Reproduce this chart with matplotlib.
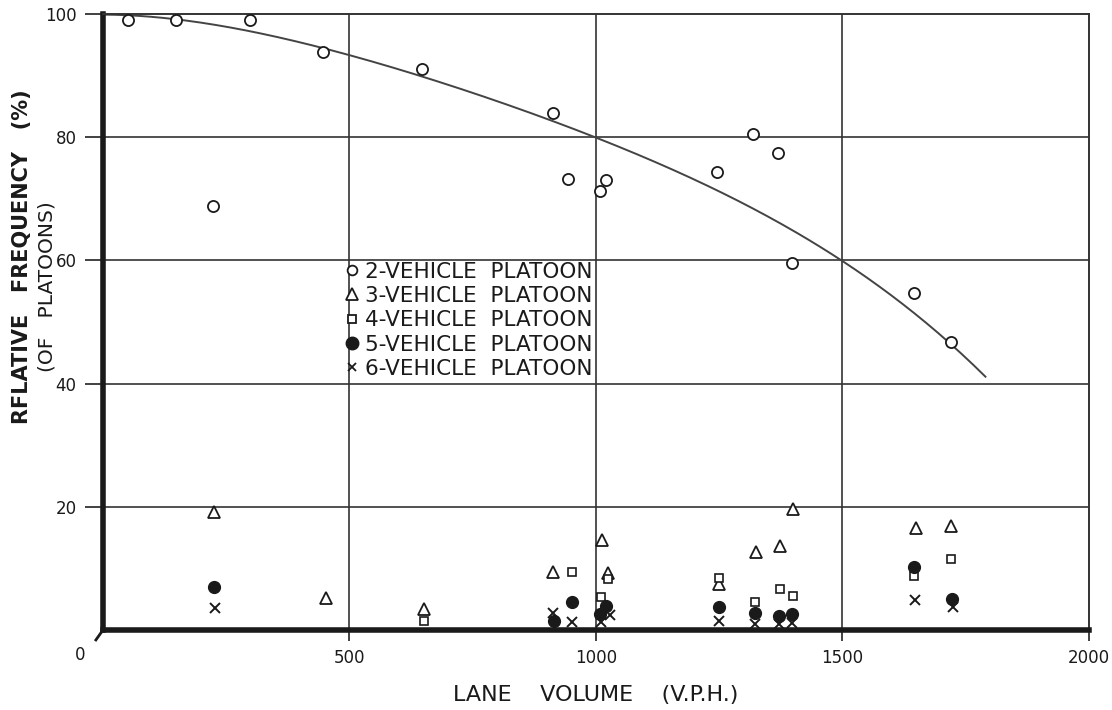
import numpy as np
import matplotlib
matplotlib.use("Agg")
import matplotlib.pyplot as plt
from matplotlib.lines import Line2D

# 2-vehicle platoons
x2 = [50, 148, 298, 446, 648, 224, 912, 944, 1009, 1020, 1245, 1319, 1370, 1397, 1646, 1720]
y2 = [99.0, 99.0, 99.0, 93.9, 91.0, 68.9, 84.0, 73.2, 71.2, 73.1, 74.4, 80.5, 77.4, 59.5, 54.7, 46.7]
# 3-vehicle platoons
x3 = [225, 452, 652, 912, 1013, 1024, 1249, 1325, 1373, 1399, 1649, 1721]
y3 = [19.2, 5.2, 3.4, 9.4, 14.6, 9.2, 7.4, 12.7, 13.7, 19.6, 16.6, 16.8]
# 4-vehicle platoons
x4 = [652, 952, 1011, 1024, 1249, 1323, 1374, 1399, 1646, 1721]
y4 = [1.5, 9.4, 5.3, 8.3, 8.5, 4.6, 6.6, 5.5, 8.8, 11.5]
# 5-vehicle platoons
x5 = [226, 915, 951, 1009, 1021, 1249, 1322, 1372, 1398, 1646, 1723]
y5 = [7.0, 1.5, 4.6, 2.6, 3.9, 3.7, 2.7, 2.3, 2.6, 10.2, 5.1]
# 6-vehicle platoons
x6 = [227, 912, 952, 1011, 1028, 1249, 1322, 1372, 1398, 1648, 1725]
y6 = [3.5, 2.8, 1.35, 1.35, 2.4, 1.5, 1.0, 1.0, 1.1, 4.8, 3.7]

# hand-drawn trend curve for 2-vehicle platoons
curve_x = [0, 250, 500, 750, 1000, 1250, 1500, 1650, 1720, 1790]
curve_y = [100, 97.7, 93.2, 87.7, 80.0, 70.5, 60.0, 51.5, 46.8, 40.6]

legend_labels = ["2-VEHICLE  PLATOON", "3-VEHICLE  PLATOON", "4-VEHICLE  PLATOON",
                 "5-VEHICLE  PLATOON", "6-VEHICLE  PLATOON"]
x_ticks = [500, 1000, 1500, 2000]
y_ticks = [20, 40, 60, 80, 100]

ink = "#1a1a1a"
plt.rcParams["font.family"] = ["DejaVu Sans"]

fig = plt.figure(figsize=(11.12, 7.10), dpi=100)
ax = fig.add_axes([0.0926, 0.1127, 0.8867, 0.8676])
ax.set_xlim(0, 2000)
ax.set_ylim(0, 100)

# grid
for gx in x_ticks[:-1]:
    ax.axvline(gx, color="#333333", lw=1.2, zorder=1)
for gy in y_ticks[:-1]:
    ax.axhline(gy, color="#333333", lw=1.2, zorder=1)

# spines
for side in ["top", "right"]:
    ax.spines[side].set_linewidth(1.4)
    ax.spines[side].set_color("#333333")
for side in ["left", "bottom"]:
    ax.spines[side].set_linewidth(4.0)
    ax.spines[side].set_color(ink)

ax.set_xticks(x_ticks)
ax.set_xticklabels([str(v) for v in x_ticks])
ax.set_yticks(y_ticks)
ax.set_yticklabels([str(v) for v in y_ticks])
ax.tick_params(axis="x", direction="out", length=8, width=1.3, color="#333333",
               labelsize=12, pad=6, labelcolor=ink)
ax.tick_params(axis="y", direction="out", length=13, width=1.3, color="#333333",
               labelsize=12, pad=6, labelcolor=ink)
ax.text(-47, -4.1, "0", ha="center", va="center", fontsize=12, color=ink, clip_on=False)
# small slanted stub at the origin
ax.plot([0, -16], [0, -1.8], color=ink, lw=2.0, clip_on=False, solid_capstyle="butt")

# trend curve
coef = np.polyfit(curve_x, curve_y, 4)
cx = np.linspace(curve_x[0], curve_x[-1], 300)
ax.plot(cx, np.polyval(coef, cx), color="#444444", lw=1.4, zorder=2)

mk = dict(linestyle="none", zorder=3)
ax.plot(x2, y2, marker="o", ms=8, mfc="white", mec=ink, mew=1.3, **mk)
ax.plot(x3, y3, marker="^", ms=9, mfc="white", mec=ink, mew=1.3, **mk)
ax.plot(x4, y4, marker="s", ms=6, mfc="white", mec=ink, mew=1.2, **mk)
ax.plot(x5, y5, marker="o", ms=8.5, mfc=ink, mec=ink, mew=1.0, **mk)
ax.plot(x6, y6, marker="x", ms=6.5, mec=ink, mew=1.4, **mk)

handles = [
    Line2D([], [], marker="o", ms=7, mfc="white", mec=ink, mew=1.3, ls="none"),
    Line2D([], [], marker="^", ms=8, mfc="white", mec=ink, mew=1.3, ls="none"),
    Line2D([], [], marker="s", ms=6, mfc="white", mec=ink, mew=1.3, ls="none"),
    Line2D([], [], marker="o", ms=9, mfc=ink, mec=ink, ls="none"),
    Line2D([], [], marker="x", ms=6, mec=ink, mew=1.3, ls="none"),
]
leg = ax.legend(handles, legend_labels, loc="upper left", bbox_to_anchor=(0.246, 0.598),
                frameon=False, handlelength=0.6, handletextpad=0.3, labelspacing=0.2,
                borderaxespad=0, borderpad=0, prop={"size": 15.5})
for t in leg.get_texts():
    t.set_color(ink)

fig.text(0.536, 0.021, "LANE    VOLUME    (V.P.H.)", ha="center", va="center",
         fontsize=16, color=ink)
fig.text(0.020, 0.638, "RFLATIVE   FREQUENCY   (%)", rotation=90, ha="center", va="center",
         fontsize=15, fontweight="bold", color=ink)
fig.text(0.042, 0.597, "(OF   PLATOONS)", rotation=90, ha="center", va="center",
         fontsize=14.5, color=ink)

fig.savefig("out.png", dpi=100)
